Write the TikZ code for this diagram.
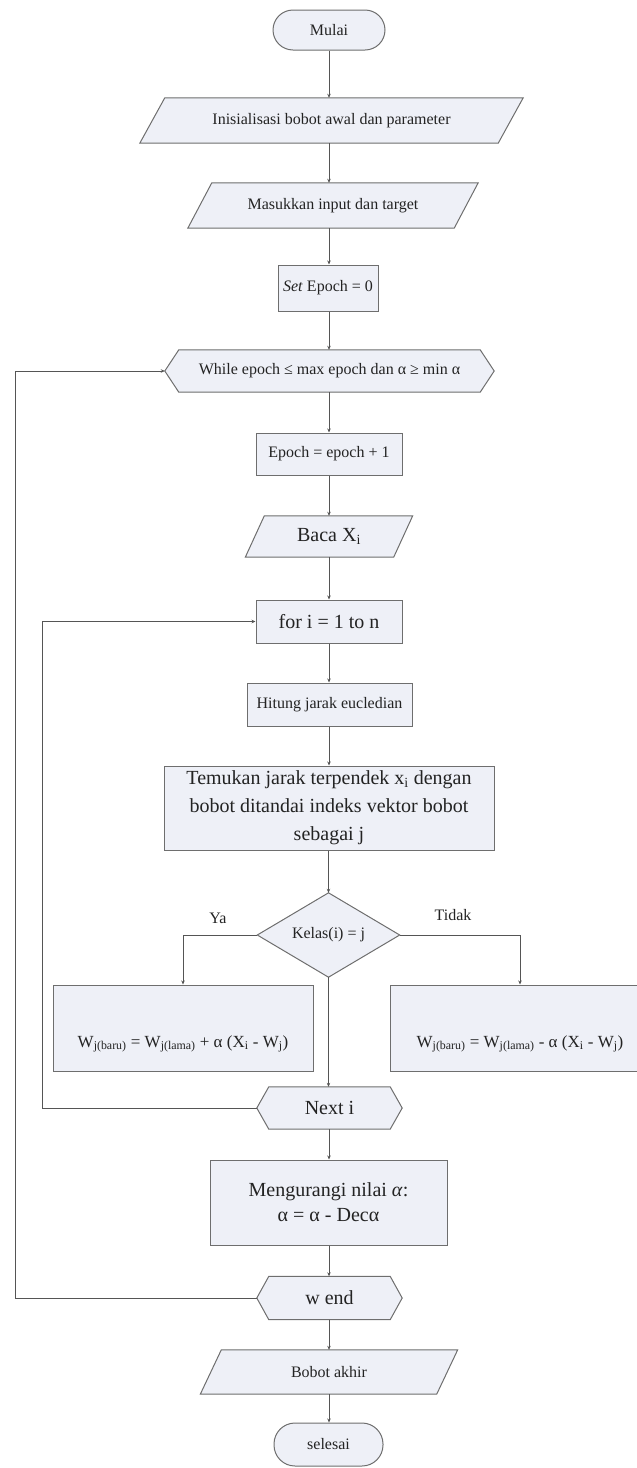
\documentclass[tikz,border=0pt]{standalone}
\usepackage{fontspec}
\setmainfont{Liberation Serif}
\usetikzlibrary{calc,backgrounds,arrows.meta}
\definecolor{bordc}{RGB}{110,110,110}
\definecolor{fillc}{RGB}{238,240,247}
\definecolor{linec}{RGB}{85,85,85}
\definecolor{txtc}{RGB}{35,35,35}
\tikzset{
  base/.style={inner sep=2pt, align=center, text=txtc, font=\fontsize{16}{19}\selectfont},
  big/.style={font=\fontsize{20}{25}\selectfont},
  boxx/.style={base, draw=bordc, fill=fillc, line width=1pt},
  ghost/.style={base, draw=none},
  outline/.style={draw=bordc, fill=fillc, line width=1pt},
  conn/.style={draw=linec, line width=0.9pt, -{Stealth[length=4pt,width=3.5pt]}},
  lbl/.style={text=txtc, font=\fontsize{16}{19}\selectfont},
  formula/.style={boxx, font=\fontsize{17}{20}\selectfont, minimum width=260pt, minimum height=86pt, text height=43pt, text depth=5pt},
}
\newcommand{\ioshape}[2]{%
  \begin{pgfonlayer}{background}
  \path[outline] ($(#1.north west)+(#2/2,0)$) -- ($(#1.north east)+(#2/2,0)$) -- ($(#1.south east)+(-#2/2,0)$) -- ($(#1.south west)+(-#2/2,0)$) -- cycle;
  \end{pgfonlayer}}
\newcommand{\hexshape}[2]{%
  \begin{pgfonlayer}{background}
  \path[outline] (#1.west) -- ($(#1.north west)+(#2,0)$) -- ($(#1.north east)+(-#2,0)$) -- (#1.east) -- ($(#1.south east)+(-#2,0)$) -- ($(#1.south west)+(#2,0)$) -- cycle;
  \end{pgfonlayer}}
\begin{document}
\begin{tikzpicture}[x=1pt,y=-1pt]
\useasboundingbox (0,0) rectangle (637,1468);

\node[boxx, rounded corners=20pt, minimum width=112pt, minimum height=40pt] (mulai) at (329,30) {Mulai};
\node[ghost, minimum width=358pt, minimum height=45pt] (init) at (331.5,120.5) {Inisialisasi bobot awal dan parameter};
\ioshape{init}{25}
\node[ghost, minimum width=266pt, minimum height=45pt] (masuk) at (333,205.5) {Masukkan input dan target};
\ioshape{masuk}{24}
\node[boxx, minimum width=100pt, minimum height=46pt] (setep) at (328,288) {\textit{Set} Epoch = 0};
\node[ghost, minimum width=329pt, minimum height=42pt] (while) at (329.5,371) {While epoch ≤ max epoch dan α ≥ min α};
\hexshape{while}{14}
\node[boxx, minimum width=146pt, minimum height=42pt] (epoch) at (329,454) {Epoch = epoch + 1};
\node[ghost, big, minimum width=148pt, minimum height=41pt] (baca) at (329,536.5) {Baca X\textsubscript{i}};
\ioshape{baca}{19}
\node[boxx, big, minimum width=146pt, minimum height=43pt] (for) at (329,621.5) {for i = 1 to n};
\node[boxx, minimum width=165pt, minimum height=43pt] (hitung) at (329.5,704.5) {Hitung jarak eucledian};
\node[boxx, font=\fontsize{20}{28}\selectfont, minimum width=330pt, minimum height=84pt] (temu) at (329,808) {Temukan jarak terpendek x\textsubscript{i} dengan\\bobot ditandai indeks vektor bobot\\sebagai j};
\node[ghost, minimum width=142pt, minimum height=84pt] (kelas) at (328.5,935) {Kelas(i) = j};
\begin{pgfonlayer}{background}
\path[outline] (kelas.west) -- (kelas.north) -- (kelas.east) -- (kelas.south) -- cycle;
\end{pgfonlayer}
\node[formula] (ya) at (183,1028) {W\textsubscript{j(baru)} = W\textsubscript{j(lama)} + α (X\textsubscript{i} - W\textsubscript{j})};
\node[formula] (tidak) at (520,1028) {W\textsubscript{j(baru)} = W\textsubscript{j(lama)} - α (X\textsubscript{i} - W\textsubscript{j})};
\node[ghost, big, minimum width=145pt, minimum height=42pt] (next) at (329.5,1108) {Next i};
\hexshape{next}{12}
\node[boxx, font=\fontsize{20}{25}\selectfont, minimum width=237pt, minimum height=85pt] (meng) at (328.5,1202.5) {Mengurangi nilai \textit{α}:\\α = α - Decα};
\node[ghost, big, minimum width=145pt, minimum height=43pt] (wend) at (329.5,1298) {w end};
\hexshape{wend}{12}
\node[ghost, minimum width=236pt, minimum height=44pt] (bobot) at (329,1372) {Bobot akhir};
\ioshape{bobot}{21}
\node[boxx, rounded corners=21pt, minimum width=109pt, minimum height=43pt] (selesai) at (328.5,1444.5) {selesai};

\node[lbl] (lya) at (218,918) {Ya};
\node[lbl] (ltidak) at (453,915) {Tidak};

\coordinate (il) at (42,0);
\coordinate (ol) at (15,0);

\draw[conn] (mulai.south) -- (mulai.south |- init.north);
\draw[conn] (init.south -| mulai.south) -- (mulai.south |- masuk.north);
\draw[conn] (masuk.south -| mulai.south) -- (mulai.south |- setep.north);
\draw[conn] (setep.south -| mulai.south) -- (mulai.south |- while.north);
\draw[conn] (while.south -| mulai.south) -- (mulai.south |- epoch.north);
\draw[conn] (epoch.south -| mulai.south) -- (mulai.south |- baca.north);
\draw[conn] (baca.south -| mulai.south) -- (mulai.south |- for.north);
\draw[conn] (for.south -| mulai.south) -- (mulai.south |- hitung.north);
\draw[conn] (hitung.south -| mulai.south) -- (mulai.south |- temu.north);
\draw[conn] (temu.south -| kelas.north) -- (kelas.north);
\draw[conn] (kelas.west) -- (kelas.west -| ya.north) -- (ya.north);
\draw[conn] (kelas.east) -- (kelas.east -| tidak.north) -- (tidak.north);
\draw[conn] (kelas.south) -- (kelas.south |- next.north);
\draw[conn] (next.west) -- (next.west -| il) -- (for.west -| il) -- (for.west);
\draw[conn] (next.south -| mulai.south) -- (mulai.south |- meng.north);
\draw[conn] (meng.south -| mulai.south) -- (mulai.south |- wend.north);
\draw[conn] (wend.west) -- (wend.west -| ol) -- (while.west -| ol) -- (while.west);
\draw[conn] (wend.south -| mulai.south) -- (mulai.south |- bobot.north);
\draw[conn] (bobot.south -| mulai.south) -- (mulai.south |- selesai.north);
\end{tikzpicture}
\end{document}
